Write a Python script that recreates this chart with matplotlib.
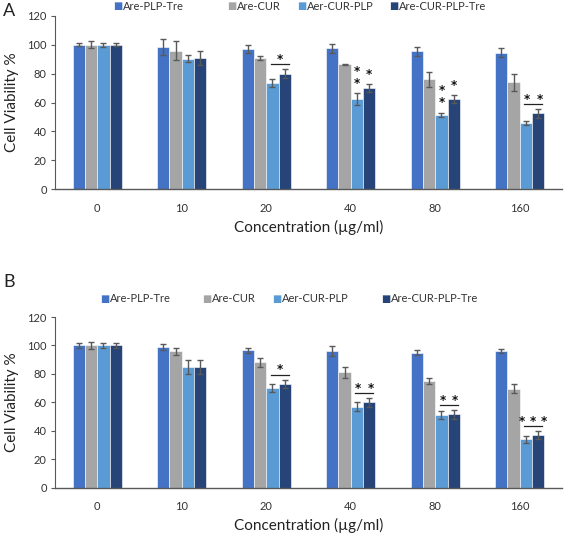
import matplotlib
matplotlib.use("Agg")
import matplotlib.pyplot as plt
import numpy as np

plt.rcParams['font.family'] = ['Lato', 'DejaVu Sans']

concentrations = ["0", "10", "20", "40", "80", "160"]
series_names = ["Are-PLP-Tre", "Are-CUR", "Aer-CUR-PLP", "Are-CUR-PLP-Tre"]
colors = ["#4472C4", "#A5A5A5", "#5B9BD5", "#264478"]

# Panel A
a_plp_tre = [100, 98.5, 97, 97.5, 95.5, 94.5]
a_cur = [100, 96, 91, 86.5, 76, 74]
a_cur_plp = [100, 90.5, 73.5, 62.5, 51.5, 46]
a_cur_plp_tre = [100, 91, 80, 70, 62.5, 52.5]
a_plp_tre_err = [1, 5.5, 3, 3, 3, 3]
a_cur_err = [2.5, 6.5, 1.5, 0.5, 5.5, 6]
a_cur_plp_err = [1.2, 2.5, 2.5, 4, 1.5, 1.5]
a_cur_plp_tre_err = [1, 5, 3, 3, 3, 3]

# Panel B
b_plp_tre = [100, 99, 96.5, 96, 95, 96]
b_cur = [100, 96, 88, 81, 75, 69.5]
b_cur_plp = [100, 85, 70, 57, 51, 34]
b_cur_plp_tre = [100, 85, 73, 60, 51.5, 37]
b_plp_tre_err = [1.5, 2, 2, 3.5, 1.5, 1.5]
b_cur_err = [2.5, 2.5, 3, 4, 2, 3]
b_cur_plp_err = [1.5, 5, 3, 3, 3, 2.5]
b_cur_plp_tre_err = [1.5, 5, 3, 3, 3, 3]

# significance annotations: (group, kind, n_stars)
a_sig = [(2, 'line', 1), (3, 'stack', 2), (4, 'stack', 2), (5, 'line', 2)]
b_sig = [(2, 'line', 1), (3, 'line', 2), (4, 'line', 2), (5, 'line', 3)]

fig = plt.figure(figsize=(5.67, 5.35), dpi=100)

bw = 0.145
offsets = (np.arange(4) - 1.5) * bw


def star(ax, x, y, s='*', ls=1.0):
    ax.text(x, y, s, ha='center', va='center', fontsize=8.5, linespacing=ls,
            fontweight='bold', color='#111111', family='DejaVu Sans', zorder=5)


def draw_panel(rect, vals, errs, sig, legend_y, legend_x):
    ax = fig.add_axes(rect)
    x = np.arange(len(concentrations))
    for i in range(4):
        ax.bar(x + offsets[i], vals[i], bw, color=colors[i], edgecolor='white',
               linewidth=0.4, label=series_names[i], zorder=2)
        ax.errorbar(x + offsets[i], vals[i], yerr=errs[i], fmt='none', ecolor='#595959',
                    elinewidth=1.0, capsize=2.5, capthick=1.0, zorder=3)
    for g, kind, n in sig:
        top3 = vals[2][g] + errs[2][g]
        top4 = vals[3][g] + errs[3][g]
        x3 = g + offsets[2]
        x4 = g + offsets[3]
        if kind == 'line':
            ly = max(top3, top4) + 3.5
            ax.plot([x3 - 0.02, x4 + 0.05], [ly, ly], color='#222222', lw=0.9, zorder=4)
            mid = (x3 + x4) / 2 + 0.015
            if n == 1:
                xs = [mid]
            elif n == 2:
                xs = [mid - 0.075, mid + 0.075]
            else:
                xs = [mid - 0.13, mid, mid + 0.13]
            for xx in xs:
                star(ax, xx, ly + 3.2)
        else:
            star(ax, x3, top3 + 7.5 + 3.5 * (n - 1), '\n'.join(['*'] * n), ls=0.85)
            star(ax, x4, top4 + 6.5)
    ax.set_xlim(-0.5, len(concentrations) - 0.5)
    ax.set_ylim(0, 120)
    ax.set_yticks(np.arange(0, 121, 20))
    ax.set_xticks(x)
    ax.set_xticklabels(concentrations)
    ax.tick_params(axis='x', length=0, pad=10, labelsize=8, labelcolor='#333333')
    ax.tick_params(axis='y', length=3, width=0.8, color='#595959', labelsize=8,
                   labelcolor='#333333', pad=3)
    for s in ['top', 'right']:
        ax.spines[s].set_visible(False)
    ax.spines['left'].set_color('#595959')
    ax.spines['bottom'].set_color('#595959')
    ax.spines['left'].set_linewidth(0.8)
    ax.spines['bottom'].set_linewidth(1.0)
    ax.set_ylabel('Cell Viability %', fontsize=11, color='#222222', labelpad=6)
    ax.set_xlabel('Concentration (µg/ml)', fontsize=11, color='#222222', labelpad=4)
    for i in range(4):
        fig.text(legend_x[i] / 567, 1 - legend_y / 535, '\u25A0', color=colors[i],
                 fontsize=7, va='center', ha='left', family='DejaVu Sans')
        fig.text(legend_x[i] / 567 + 0.018, 1 - legend_y / 535, series_names[i],
                 fontsize=8, va='center', ha='left', color='#333333')
    return ax


ax1 = draw_panel([55 / 567, 1 - 189 / 535, 507 / 567, 173 / 535],
                 [a_plp_tre, a_cur, a_cur_plp, a_cur_plp_tre],
                 [a_plp_tre_err, a_cur_err, a_cur_plp_err, a_cur_plp_tre_err],
                 a_sig, 6, [113, 227, 297, 389])
ax2 = draw_panel([55 / 567, 1 - 487.5 / 535, 507 / 567, 170.5 / 535],
                 [b_plp_tre, b_cur, b_cur_plp, b_cur_plp_tre],
                 [b_plp_tre_err, b_cur_err, b_cur_plp_err, b_cur_plp_tre_err],
                 b_sig, 299, [100, 202, 272, 381])

fig.text(3 / 567, 1 - 11 / 535, 'A', fontsize=13, va='center', ha='left', color='#222222')
fig.text(3 / 567, 1 - 282 / 535, 'B', fontsize=13, va='center', ha='left', color='#222222')

fig.savefig('out.png', dpi=100)
